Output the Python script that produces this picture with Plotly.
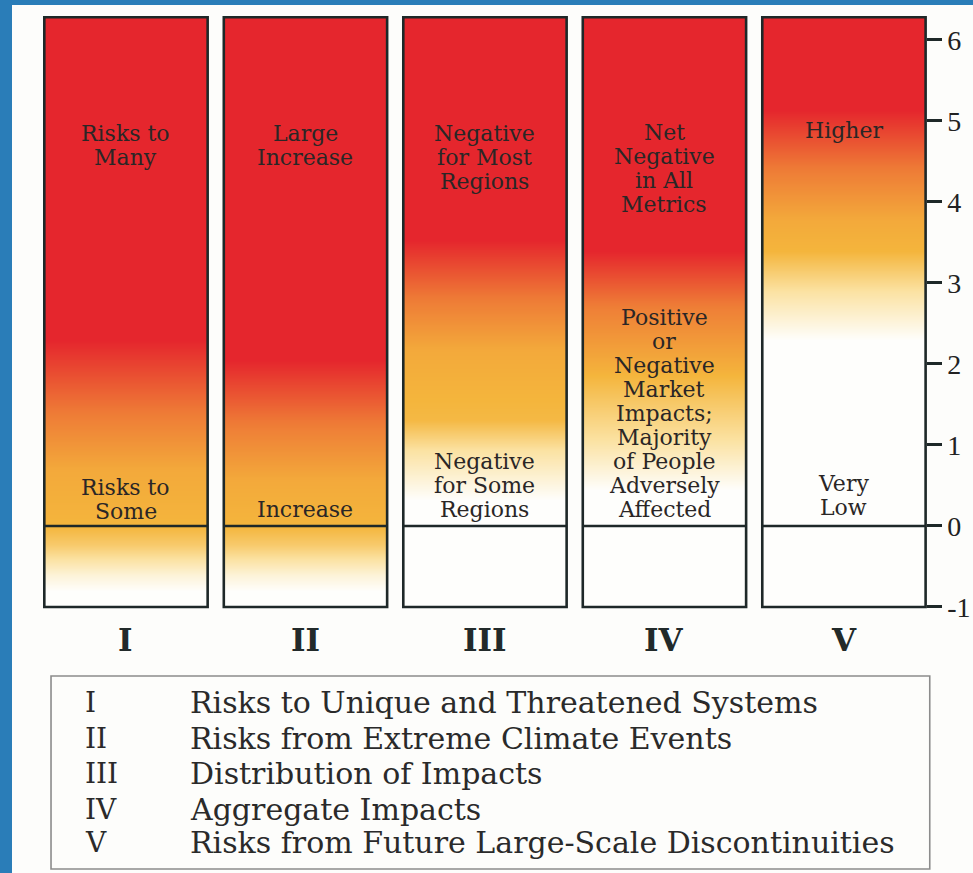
import plotly.graph_objects as go

# ---------------- data ----------------
categories = ["I", "II", "III", "IV", "V"]
category_names = [
    "Risks to Unique and Threatened Systems",
    "Risks from Extreme Climate Events",
    "Distribution of Impacts",
    "Aggregate Impacts",
    "Risks from Future Large-Scale Discontinuities",
]

temp_bottom = -1.0
temp_top = 6.28
zero_level = 0.0
tick_vals = [-1, 0, 1, 2, 3, 4, 5, 6]
tick_text = ["-1", "0", "1", "2", "3", "4", "5", "6"]

# risk intensity (0 = white / none, 1 = red / high) read at temperatures
ember_I_temp = [-1.0, -0.99, -0.8, -0.6, -0.23, 0.0, 0.69, 1.31, 2.3, 6.27, 6.28]
ember_I_risk = [0.0, 0.0, 0.0, 0.1, 0.38, 0.5, 0.55, 0.72, 1.0, 1.0, 1.0]

ember_II_temp = [-1.0, -0.99, -0.8, -0.6, -0.23, 0.0, 0.57, 1.19, 2.05, 6.27, 6.28]
ember_II_risk = [0.0, 0.0, 0.0, 0.1, 0.38, 0.5, 0.55, 0.72, 1.0, 1.0, 1.0]

ember_III_temp = [-1.0, -0.99, 0.32, 0.94, 1.31, 2.17, 2.79, 3.53, 6.27, 6.28]
ember_III_risk = [0.0, 0.0, 0.0, 0.25, 0.48, 0.55, 0.74, 1.0, 1.0, 1.0]

ember_IV_temp = [-1.0, -0.99, 0.44, 1.06, 1.93, 2.67, 3.4, 6.27, 6.28]
ember_IV_risk = [0.0, 0.0, 0.0, 0.25, 0.52, 0.72, 1.0, 1.0, 1.0]

ember_V_temp = [-1.0, -0.99, 2.3, 2.9, 3.4, 3.78, 4.4, 5.14, 6.27, 6.28]
ember_V_risk = [0.0, 0.0, 0.0, 0.25, 0.5, 0.55, 0.74, 1.0, 1.0, 1.0]

ember_temps = [ember_I_temp, ember_II_temp, ember_III_temp, ember_IV_temp, ember_V_temp]
ember_risks = [ember_I_risk, ember_II_risk, ember_III_risk, ember_IV_risk, ember_V_risk]

upper_labels = [
    ["Risks to", "Many"],
    ["Large", "Increase"],
    ["Negative", "for Most", "Regions"],
    ["Net", "Negative", "in All", "Metrics"],
    ["Higher"],
]
upper_label_temp = [4.85, 4.84, 4.85, 4.86, 4.88]

lower_labels = [
    ["Risks to", "Some"],
    ["Increase"],
    ["Negative", "for Some", "Regions"],
    ["Positive", "or", "Negative", "Market", "Impacts;", "Majority",
     "of People", "Adversely", "Affected"],
    ["Very", "Low"],
]
lower_label_temp = [0.48, 0.20, 0.80, 2.58, 0.53]

# ---------------- styling ----------------
half_w = 0.455
edge_col = "#1e2828"
text_col = "#2a2626"
colorscale = [
    [0.0, "#fefefc"],
    [0.25, "#fbe2a2"],
    [0.5, "#f4b53c"],
    [0.75, "#ee7a36"],
    [1.0, "#e5262d"],
]

fig = go.Figure()

for i, cat in enumerate(categories):
    z = [[r, r] for r in ember_risks[i]]
    fig.add_trace(go.Heatmap(
        x=[i - half_w, i, i + half_w],
        y=ember_temps[i],
        z=z,
        coloraxis="coloraxis",
        zsmooth="best",
        hoverinfo="skip",
        name=cat,
    ))
    fig.add_shape(type="rect", xref="x", yref="y",
                  x0=i - half_w, x1=i + half_w, y0=temp_bottom, y1=temp_top,
                  line=dict(color=edge_col, width=2.6), fillcolor="rgba(0,0,0,0)")
    fig.add_shape(type="line", xref="x", yref="y",
                  x0=i - half_w, x1=i + half_w, y0=zero_level, y1=zero_level,
                  line=dict(color=edge_col, width=2.4))
    for k, line in enumerate(upper_labels[i]):
        fig.add_annotation(x=i, y=upper_label_temp[i], xref="x", yref="y",
                           text=line, showarrow=False, yshift=-24 * k,
                           font=dict(family="DejaVu Serif", size=22, color=text_col))
    for k, line in enumerate(lower_labels[i]):
        fig.add_annotation(x=i, y=lower_label_temp[i], xref="x", yref="y",
                           text=line, showarrow=False, yshift=-24 * k,
                           font=dict(family="DejaVu Serif", size=22, color=text_col))
    fig.add_annotation(x=i, y=-1.41, xref="x", yref="y", text="<b>" + cat + "</b>",
                       showarrow=False,
                       font=dict(family="DejaVu Serif", size=31, color="#222a2a"))

# legend box
x_min, x_max = -0.635, 4.719
fig.add_shape(type="rect", xref="paper", yref="paper",
              x0=0.0406, x1=0.955, y0=0.0046, y1=0.227,
              line=dict(color="#8c8c8c", width=1.6), fillcolor="rgba(0,0,0,0)")
legend_y = [0.197, 0.1555, 0.1152, 0.0737, 0.0346]
for k, (code, name) in enumerate(zip(categories, category_names)):
    fig.add_annotation(x=0.074, y=legend_y[k], xref="paper", yref="paper",
                       text=code, showarrow=False, xanchor="left", yanchor="middle",
                       font=dict(family="DejaVu Serif", size=28, color="#2a2a2a"))
    fig.add_annotation(x=0.1831, y=legend_y[k], xref="paper", yref="paper",
                       text=name, showarrow=False, xanchor="left", yanchor="middle",
                       font=dict(family="DejaVu Serif", size=30, color="#2a2a2a"))

axis_pos = (4 + half_w - x_min) / (x_max - x_min)

fig.update_layout(
    width=973, height=873,
    margin=dict(l=12, r=0, t=5, b=0),
    paper_bgcolor="#2a7db8",
    plot_bgcolor="#fdfdfb",
    showlegend=False,
    coloraxis=dict(colorscale=colorscale, cmin=0, cmax=1, showscale=False),
    xaxis=dict(range=[x_min, x_max], visible=False, fixedrange=True),
    yaxis=dict(range=[-4.284, 6.432], side="right", anchor="free", position=axis_pos,
               tickvals=tick_vals, ticktext=tick_text, ticks="outside", ticklen=15,
               tickwidth=2.5, tickcolor=edge_col, showgrid=False, zeroline=False,
               showline=False, automargin=False, fixedrange=True,
               tickfont=dict(family="Liberation Serif", size=28, color="#222")),
)

fig.write_html("out.html", config={"displayModeBar": False},
               post_script="document.body.style.margin='0px';")
